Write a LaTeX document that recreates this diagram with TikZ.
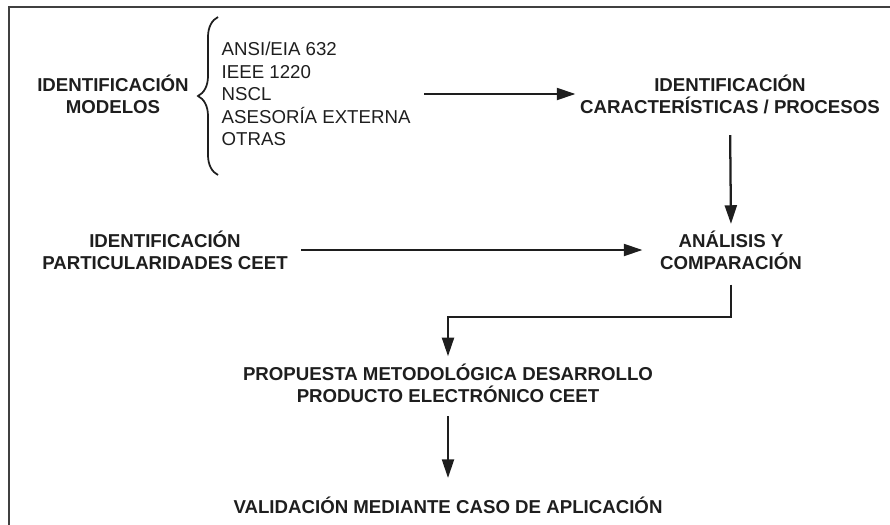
\documentclass[tikz,border=0pt]{standalone}
\usepackage{fontspec}
\setmainfont{Liberation Sans}
\usetikzlibrary{arrows.meta,decorations.pathreplacing}
\definecolor{tinta}{RGB}{30,30,30}

\begin{document}
\begin{tikzpicture}[x=0.75pt, y=-0.75pt,
  titulo/.style={font=\fontsize{14}{16.5}\selectfont\bfseries, align=center, text=tinta},
  lista/.style={font=\fontsize{14}{16.8}\selectfont, align=left, text=tinta, anchor=west},
  flecha/.style={line width=1.7pt, draw=tinta, -{Triangle[length=14pt,width=9pt]}}]

  \useasboundingbox (0,0) rectangle (890,525);

  % --- Marco ---
  \draw[tinta!85, line width=1.6pt] (9,525) -- (9,7) -- (890,7);

  % --- Nodos ---
  \node[titulo] (modelos) at (113,94) {IDENTIFICACIÓN\\MODELOS};
  \node[lista]  (normas)  at (217,94) {ANSI/EIA 632\\IEEE 1220\\NSCL\\ASESORÍA EXTERNA\\OTRAS};
  \node[titulo] (caract)  at (730,94) {IDENTIFICACIÓN\\CARACTERÍSTICAS / PROCESOS};
  \node[titulo] (partic)  at (165,250) {IDENTIFICACIÓN\\PARTICULARIDADES CEET};
  \node[titulo] (analisis) at (731,250) {ANÁLISIS Y\\COMPARACIÓN};
  \node[titulo] (propuesta) at (448,383) {PROPUESTA METODOLÓGICA DESARROLLO\\PRODUCTO ELECTRÓNICO CEET};
  \node[titulo] (validacion) at (448,505) {VALIDACIÓN MEDIANTE CASO DE APLICACIÓN};

  % --- Llave ---
  \draw[tinta, line width=1.3pt, decorate, decoration={brace, amplitude=15pt}] (218,175) -- (218,17);

  % --- Flechas ---
  \coordinate (codo) at (731,317);
  \draw[flecha, shorten <=6.75pt] (normas.east) -- (normas.east -| caract.west);
  \draw[flecha, shorten <=12.75pt, shorten >=1.5pt] (caract.south) -- (analisis.north);
  \draw[flecha, shorten <=6.75pt, shorten >=9.75pt] (partic.east) -- (partic.east -| analisis.west);
  \draw[flecha, shorten <=8pt, shorten >=2pt] (analisis.south) -- (codo) -| (propuesta.north);
  \draw[flecha, shorten <=6.75pt, shorten >=10.5pt] (propuesta.south) -- (validacion.north);

\end{tikzpicture}
\end{document}
